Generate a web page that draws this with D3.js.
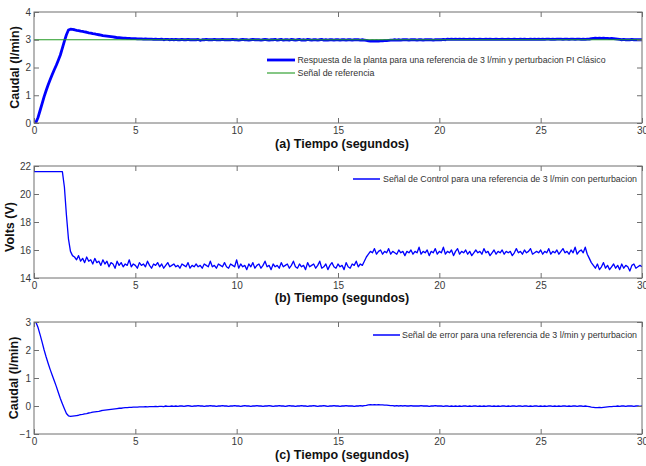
<!DOCTYPE html>
<html>
<head>
<meta charset="utf-8">
<script src="https://cdn.jsdelivr.net/npm/d3@7"></script>
<style>
  html, body { margin: 0; padding: 0; background: #fff; }
  svg { display: block; font-family: "Liberation Sans", Arial, sans-serif; }
</style>
</head>
<body>
<svg id="chart" width="646" height="466"></svg>
<script>
// Sampling interval of the logged signals (seconds)
const timeStep = 0.1;

// Plant flow response, l/min (one row per second)
const flow = [
  0, 0.03, 0.2, 0.45, 0.7, 0.95, 1.17, 1.38, 1.57, 1.75,
  1.92, 2.08, 2.26, 2.45, 2.7, 2.95, 3.18, 3.35, 3.38, 3.37,
  3.36, 3.34, 3.33, 3.31, 3.3, 3.28, 3.27, 3.25, 3.24, 3.22,
  3.21, 3.19, 3.18, 3.17, 3.15, 3.14, 3.13, 3.12, 3.11, 3.1,
  3.09, 3.08, 3.08, 3.07, 3.06, 3.06, 3.05, 3.05, 3.04, 3.04,
  3.04, 3.03, 3.03, 3.03, 3.02, 3.03, 3.02, 3.02, 3.02, 3.01,
  3.02, 3.01, 3.01, 3.02, 3.0, 3.01, 3.01, 3.0, 3.01, 3.0,
  3.01, 3.0, 3.0, 3.01, 3.0, 3.0, 3.01, 3.0, 3.0, 3.0,
  3.0, 3.01, 2.98, 3.0, 3.0, 3.01, 3.0, 3.0, 3.0, 3.01,
  3.0, 3.0, 3.0, 3.01, 3.0, 3.0, 3.0, 3.0, 3.01, 3.0,
  3.0, 2.99, 3.0, 3.01, 3.0, 3.0, 2.99, 3.0, 3.01, 3.0,
  3.0, 3.0, 2.99, 3.0, 3.01, 3.0, 2.99, 3.0, 3.0, 3.01,
  2.99, 3.0, 3.01, 2.99, 3.0, 3.0, 2.99, 3.01, 3.0, 2.99,
  3.0, 3.01, 2.99, 3.0, 2.99, 3.01, 3.0, 2.99, 3.0, 3.0,
  2.99, 3.0, 3.01, 2.99, 3.0, 2.99, 3.0, 3.0, 2.99, 3.0,
  3.0, 2.99, 3.0, 3.0, 2.99, 3.0, 3.0, 2.99, 3.0, 3.0,
  3.0, 2.99, 3.0, 2.99, 2.98, 2.96, 2.95, 2.96, 2.95, 2.96,
  2.95, 2.96, 2.96, 2.97, 2.97, 2.98, 2.99, 2.99, 3.0, 2.99,
  3.0, 2.99, 3.0, 3.0, 3.0, 2.99, 3.0, 3.0, 3.0, 2.99,
  3.0, 3.0, 2.99, 3.0, 3.0, 3.0, 3.0, 2.99, 3.0, 3.0,
  3.0, 3.0, 3.01, 3.0, 3.02, 3.01, 3.02, 3.01, 3.02, 3.01,
  3.02, 3.01, 3.02, 3.01, 3.01, 3.02, 3.01, 3.02, 3.01, 3.01,
  3.02, 3.01, 3.01, 3.02, 3.01, 3.02, 3.01, 3.01, 3.02, 3.01,
  3.01, 3.02, 3.01, 3.01, 3.02, 3.01, 3.01, 3.02, 3.01, 3.01,
  3.02, 3.01, 3.02, 3.01, 3.01, 3.02, 3.01, 3.02, 3.01, 3.02,
  3.01, 3.02, 3.01, 3.02, 3.02, 3.01, 3.02, 3.01, 3.02, 3.02,
  3.02, 3.01, 3.02, 3.02, 3.01, 3.02, 3.02, 3.01, 3.02, 3.02,
  3.01, 3.02, 3.01, 3.02, 3.02, 3.04, 3.05, 3.06, 3.05, 3.06,
  3.05, 3.06, 3.05, 3.05, 3.04, 3.05, 3.04, 3.03, 3.02, 3.01,
  3.0, 3.01, 3.0, 3.0, 3.0, 3.01, 3.0, 3.0, 3.0, 3.0,
  3.0
];

// Set point, l/min
const refTime = [0, 30];
const refValue = [3, 3];

// Control signal applied to the pump, volts
const control = [
  21.6, 21.6, 21.6, 21.6, 21.6, 21.6, 21.6, 21.6, 21.6, 21.6,
  21.6, 21.6, 21.6, 21.6, 21.6, 20.5, 18.5, 16.8, 15.9, 15.6,
  15.5, 15.3, 15.6, 15.2, 15.4, 15.1, 15.5, 15.2, 15.3, 15.0,
  15.4, 15.1, 15.2, 14.9, 15.3, 15.0, 15.2, 14.8, 15.1, 15.0,
  14.7, 15.2, 14.9, 15.1, 14.8, 15.0, 14.9, 15.3, 14.8, 15.0,
  14.9, 14.7, 15.1, 14.9, 15.0, 14.8, 15.2, 14.9, 14.7, 15.0,
  14.9, 15.1, 14.8, 15.0, 14.7, 14.9, 15.1, 14.8, 14.9, 15.0,
  14.8, 14.9, 14.7, 15.0, 14.9, 14.8, 15.1, 14.7, 14.9, 14.8,
  15.0, 14.8, 14.9, 14.7, 15.0, 14.9, 14.8, 15.2, 14.8, 14.9,
  14.7, 15.0, 14.9, 14.8, 15.1, 14.8, 14.7, 15.0, 14.9, 14.8,
  15.3, 14.7, 15.0, 14.8, 14.9, 14.6, 15.0, 14.8, 15.1, 14.7,
  14.9, 15.0, 14.7, 14.9, 15.2, 14.8, 14.9, 14.6, 15.0, 14.8,
  14.9, 14.7, 15.1, 14.8, 14.9, 15.0, 14.7, 14.9, 15.2, 14.8,
  14.7, 15.0, 14.8, 14.9, 14.6, 15.1, 14.8, 14.9, 15.0, 14.7,
  14.9, 15.2, 14.7, 14.8, 15.0, 14.6, 14.9, 15.1, 14.8, 14.7,
  15.0, 14.8, 14.9, 14.6, 15.1, 14.8, 14.7, 15.0, 14.9, 15.2,
  14.8, 15.0, 14.9, 15.2, 15.5, 15.7, 15.9, 15.8, 16.1, 15.7,
  15.9, 16.0, 15.7, 15.9, 15.8, 16.1, 15.7, 15.9, 15.8, 15.7,
  16.0, 15.8, 15.9, 15.6, 15.9, 15.8, 16.0, 15.7, 15.9, 15.8,
  16.2, 15.7, 15.9, 15.8, 16.0, 15.6, 15.9, 15.8, 16.1, 15.7,
  15.9, 15.8, 16.2, 15.7, 15.9, 15.8, 16.0, 15.6, 15.9, 16.1,
  15.7, 15.9, 15.8, 16.0, 15.7, 15.9, 15.6, 15.8, 16.0, 15.8,
  15.9, 15.7, 16.1, 15.8, 15.9, 15.6, 15.8, 16.0, 15.7, 15.9,
  15.8, 16.0, 15.7, 15.9, 15.8, 15.9, 15.6, 15.8, 16.1, 15.8,
  15.9, 15.7, 16.0, 15.8, 15.9, 16.1, 15.7, 15.8, 15.9, 15.8,
  16.0, 15.7, 15.9, 15.8, 16.1, 15.7, 15.9, 15.8, 16.0, 15.7,
  15.9, 16.1, 15.8, 15.9, 15.7, 16.0, 15.8, 16.2, 15.7, 15.9,
  16.0, 15.8, 16.2, 15.7, 15.4, 15.1, 14.9, 14.7, 15.0, 14.6,
  14.8, 15.1, 14.7, 14.9, 14.6, 14.8, 15.0, 14.7, 14.9, 14.6,
  15.0, 14.7, 14.9, 14.8, 14.5, 14.9, 15.0, 14.7, 14.8, 14.9,
  14.8
];

// Tracking error (set point minus flow), l/min
const errorSignal = [
  3.0, 2.98, 2.8, 2.55, 2.28, 2.0, 1.75, 1.52, 1.3, 1.1,
  0.9, 0.7, 0.48, 0.27, 0.08, -0.1, -0.27, -0.35, -0.37, -0.36,
  -0.35, -0.34, -0.33, -0.31, -0.3, -0.28, -0.27, -0.25, -0.24, -0.22,
  -0.21, -0.2, -0.19, -0.17, -0.16, -0.15, -0.14, -0.13, -0.12, -0.11,
  -0.1, -0.09, -0.08, -0.08, -0.07, -0.06, -0.06, -0.05, -0.05, -0.04,
  -0.04, -0.04, -0.03, -0.03, -0.03, -0.02, -0.03, -0.02, -0.02, -0.02,
  -0.01, -0.02, -0.01, -0.01, -0.02, 0, -0.01, -0.01, 0, -0.01,
  0, -0.01, 0, 0, -0.01, 0, 0.01, 0, -0.01, 0,
  0, 0.01, 0, 0, -0.01, 0, 0, 0.01, 0, 0,
  -0.01, 0, 0, 0.01, 0, 0, -0.01, 0, 0, 0.01,
  0, 0, -0.01, 0, 0.01, 0, 0, -0.01, 0, 0,
  0.01, 0, 0, -0.01, 0, 0, 0.01, 0, -0.01, 0,
  0, 0.01, 0, 0, -0.01, 0, 0.01, 0, 0, -0.01,
  0, 0, 0.01, 0, 0, -0.01, 0, 0, 0.01, 0,
  -0.01, 0, 0, 0.01, 0, -0.01, 0, 0, 0.01, 0,
  0, -0.01, 0, 0, 0.01, 0, 0, 0, -0.01, 0,
  0, 0.01, 0, 0.01, 0.02, 0.04, 0.05, 0.04, 0.05, 0.04,
  0.05, 0.04, 0.04, 0.03, 0.03, 0.02, 0.01, 0.01, 0, 0.01,
  0, 0.01, 0, 0.01, 0, 0, 0.01, 0, 0, 0,
  0, 0.01, 0, 0, 0, -0.01, 0, 0, 0.01, 0,
  0, 0, -0.01, 0, 0, -0.01, 0, -0.01, 0, -0.01,
  0, -0.01, 0, 0, -0.01, 0, -0.01, 0, 0, -0.01,
  0, -0.01, 0, -0.01, 0, 0, -0.01, 0, -0.01, 0,
  -0.01, 0, 0, -0.01, 0, -0.01, 0, 0, -0.01, 0,
  0, -0.01, 0, 0, -0.01, 0, -0.01, 0, 0, -0.01,
  0, -0.01, 0, -0.01, 0, 0, -0.01, 0, -0.01, 0,
  -0.01, 0, 0, -0.01, 0, -0.01, 0, 0, -0.01, 0,
  0, -0.01, 0, -0.01, -0.02, -0.04, -0.05, -0.06, -0.06, -0.05,
  -0.06, -0.05, -0.04, -0.03, -0.02, -0.02, -0.01, -0.01, 0, -0.01,
  0, 0, -0.01, 0, 0, 0, -0.01, 0, 0, -0.01,
  0
];

// Axis ticks
const timeTicks = [0, 5, 10, 15, 20, 25, 30];
const flowTicks = [0, 1, 2, 3, 4];
const voltTicks = [14, 16, 18, 20, 22];
const errorTicks = [-1, 0, 1, 2, 3];

// Legend and axis texts
const legendA = ["Respuesta de la planta para una referencia de 3 l/min y perturbacion PI Clásico", "Señal de referencia"];
const legendB = ["Señal de Control para una referencia de 3 l/min con perturbacion"];
const legendC = ["Señal de error para una referencia de 3 l/min y perturbacion"];
const xTitles = ["(a) Tiempo (segundos)", "(b) Tiempo (segundos)", "(c) Tiempo (segundos)"];
const yTitles = ["Caudal (l/min)", "Volts (V)", "Caudal (l/min)"];

const BLUE = "#0000ff";
const GREEN = "#229a22";
const FRAME = "#6f6f6f";
const TICKTEXT = "#3a3a3a";

const svg = d3.select("#chart");
const left = 34, right = 642;
const x = d3.scaleLinear().domain([0, 30]).range([left, right]);

const toPoints = arr => arr.map((v, i) => [i * timeStep, v]);

const panels = [
  {
    top: 12, bottom: 123, domain: [0, 4], ticks: flowTicks,
    xTitle: xTitles[0], xTitleY: 148, yTitle: yTitles[0], yTitleX: 18.5, yTitleShift: 0,
    series: [
      { pts: toPoints(flow), color: BLUE, width: 2.8 },
      { pts: refTime.map((t, i) => [t, refValue[i]]), color: GREEN, width: 1.1 }
    ],
    legend: [
      { text: legendA[0], color: BLUE, width: 2.8, x1: 267, x2: 295, y: 60, tx: 297.5, tw: 308 },
      { text: legendA[1], color: GREEN, width: 1.1, x1: 267, x2: 295, y: 73, tx: 297.5, tw: 77 }
    ]
  },
  {
    top: 166, bottom: 278, domain: [14, 22], ticks: voltTicks,
    xTitle: xTitles[1], xTitleY: 302, yTitle: yTitles[1], yTitleX: 13.5, yTitleShift: 5,
    series: [{ pts: toPoints(control), color: BLUE, width: 1.3 }],
    legend: [
      { text: legendB[0], color: BLUE, width: 1.5, x1: 353, x2: 380, y: 179, tx: 383, tw: 254 }
    ]
  },
  {
    top: 322, bottom: 434, domain: [-1, 3], ticks: errorTicks,
    xTitle: xTitles[2], xTitleY: 459, yTitle: yTitles[2], yTitleX: 17.5, yTitleShift: 0,
    series: [{ pts: toPoints(errorSignal), color: BLUE, width: 1.3 }],
    legend: [
      { text: legendC[0], color: BLUE, width: 1.5, x1: 373, x2: 400, y: 335, tx: 402, tw: 235 }
    ]
  }
];

panels.forEach((p, k) => {
  const y = d3.scaleLinear().domain(p.domain).range([p.bottom, p.top]);
  const g = svg.append("g");

  const clipId = "clip" + k;
  svg.append("clipPath").attr("id", clipId)
    .append("rect").attr("x", left).attr("y", p.top)
    .attr("width", right - left).attr("height", p.bottom - p.top);

  // data lines
  const line = d3.line().x(d => x(d[0])).y(d => y(d[1]));
  const lines = g.append("g").attr("clip-path", `url(#${clipId})`);
  p.series.forEach(s => {
    lines.append("path").datum(s.pts)
      .attr("d", line)
      .attr("fill", "none")
      .attr("stroke", s.color)
      .attr("stroke-width", s.width)
      .attr("stroke-linejoin", "round");
  });

  // axes with inward ticks on all four sides
  const styleAxis = sel => {
    sel.select(".domain").remove();
    sel.selectAll(".tick line").attr("stroke", FRAME);
    sel.selectAll(".tick text").attr("fill", TICKTEXT)
      .style("font-size", "10px")
      .style("font-family", "'Liberation Sans', Arial, sans-serif");
  };
  g.append("g").attr("transform", `translate(0,${p.bottom})`)
    .call(d3.axisBottom(x).tickValues(timeTicks).tickSize(-5).tickPadding(4).tickFormat(d3.format("d")))
    .call(styleAxis);
  g.append("g").attr("transform", `translate(0,${p.top})`)
    .call(d3.axisTop(x).tickValues(timeTicks).tickSize(-5).tickFormat(""))
    .call(styleAxis);
  g.append("g").attr("transform", `translate(${left},0)`)
    .call(d3.axisLeft(y).tickValues(p.ticks).tickSize(-5).tickPadding(3).tickFormat(d3.format("d")))
    .call(styleAxis);
  g.append("g").attr("transform", `translate(${right},0)`)
    .call(d3.axisRight(y).tickValues(p.ticks).tickSize(-5).tickFormat(""))
    .call(styleAxis);

  g.append("rect")
    .attr("x", left).attr("y", p.top)
    .attr("width", right - left).attr("height", p.bottom - p.top)
    .attr("fill", "none").attr("stroke", FRAME).attr("stroke-width", 1);

  // legend
  p.legend.forEach(l => {
    g.append("line")
      .attr("x1", l.x1).attr("x2", l.x2).attr("y1", l.y).attr("y2", l.y)
      .attr("stroke", l.color).attr("stroke-width", l.width);
    g.append("text")
      .attr("x", l.tx).attr("y", l.y).attr("dy", "0.35em")
      .attr("textLength", l.tw).attr("lengthAdjust", "spacingAndGlyphs")
      .attr("fill", "#333")
      .style("font-size", "9px")
      .text(l.text);
  });

  // axis titles
  g.append("text")
    .attr("x", (left + right) / 2 + 4).attr("y", p.xTitleY)
    .attr("text-anchor", "middle")
    .style("font-size", "12.5px").style("font-weight", "bold")
    .attr("fill", "#111")
    .text(p.xTitle);
  g.append("text")
    .attr("transform", `translate(${p.yTitleX},${(p.top + p.bottom) / 2 + p.yTitleShift}) rotate(-90)`)
    .attr("text-anchor", "middle")
    .style("font-size", "12.5px").style("font-weight", "bold")
    .attr("fill", "#111")
    .text(p.yTitle);
});
</script>
</body>
</html>
